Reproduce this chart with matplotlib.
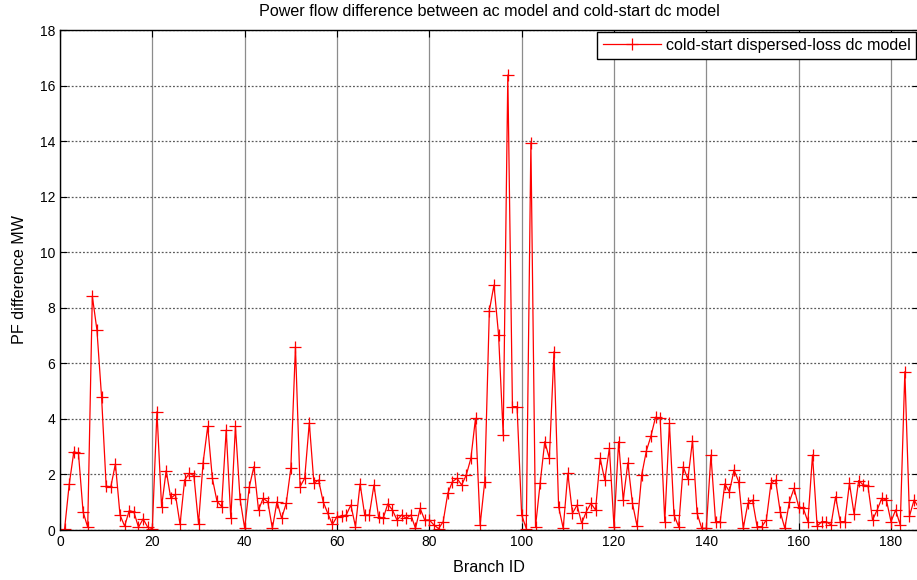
import numpy as np
import matplotlib
matplotlib.use("Agg")
import matplotlib.pyplot as plt

# power flow difference (MW) per branch, branches 1..186
branch_ids = np.arange(1, 187)
pf_diff = [
    0.05, 1.65, 2.82, 2.76, 0.65, 0.10, 8.42, 7.20, 4.80, 1.58,
    1.55, 2.38, 0.54, 0.14, 0.70, 0.65, 0.10, 0.40, 0.10, 0.05,
    4.26, 0.84, 2.14, 1.14, 1.28, 0.20, 1.80, 2.04, 1.96, 0.23,
    2.43, 3.73, 1.86, 1.04, 0.84, 3.60, 0.42, 3.73, 1.12, 0.06,
    1.55, 2.28, 0.72, 1.14, 1.02, 0.06, 1.02, 0.42, 0.96, 2.22,
    6.60, 1.56, 1.86, 3.86, 1.68, 1.80, 1.02, 0.60, 0.20, 0.48,
    0.50, 0.54, 0.90, 0.12, 1.66, 0.54, 0.54, 1.62, 0.48, 0.42,
    0.94, 0.72, 0.36, 0.54, 0.42, 0.54, 0.06, 0.78, 0.36, 0.36,
    0.18, 0.05, 0.30, 1.32, 1.74, 1.86, 1.62, 1.98, 2.58, 4.02,
    0.18, 1.74, 7.90, 8.82, 7.02, 3.42, 16.38, 4.44, 4.44, 0.54,
    0.05, 13.95, 0.12, 1.68, 3.18, 2.58, 6.42, 0.84, 0.06, 2.04,
    0.60, 0.90, 0.24, 0.66, 0.96, 0.72, 2.58, 1.80, 2.94, 0.12,
    3.18, 1.08, 2.42, 0.96, 0.14, 1.98, 2.84, 3.38, 4.06, 4.02,
    0.30, 3.84, 0.54, 0.12, 2.28, 1.82, 3.22, 0.60, 0.06, 0.06,
    2.70, 0.30, 0.30, 1.66, 1.38, 2.16, 1.74, 0.06, 0.96, 1.08,
    0.12, 0.12, 0.36, 1.68, 1.80, 0.66, 0.06, 1.02, 1.50, 0.84,
    0.78, 0.30, 2.70, 0.14, 0.30, 0.30, 0.18, 1.20, 0.30, 0.30,
    1.68, 0.58, 1.78, 1.62, 1.60, 0.36, 0.72, 1.14, 1.08, 0.30,
    0.72, 0.18, 5.70, 0.50, 1.08, 0.80,
]
x_ticks = np.arange(0, 181, 20)
y_ticks = np.arange(0, 19, 2)

plt.rcParams["font.family"] = ["Liberation Sans", "DejaVu Sans"]
plt.rcParams["font.size"] = 10

fig = plt.figure(figsize=(9.17, 5.8), dpi=100)
ax = fig.add_axes([60 / 917, 50 / 580, 858.7 / 917, 500 / 580])

# 1. Plot
ax.plot(branch_ids, pf_diff, color="red", linewidth=0.9, marker="+",
        markersize=8, markeredgewidth=0.9,
        label="cold-start dispersed-loss dc model")

# 2. Axes, ticks, grid
ax.set_xlim(0, 186)
ax.set_ylim(0, 18)
ax.set_xticks(x_ticks)
ax.set_yticks(y_ticks)
ax.tick_params(direction="in", length=5, top=True, right=True,
               labelsize=10, width=0.8)
ax.xaxis.grid(True, color="#8c8c8c", linestyle="-", linewidth=0.9)
ax.yaxis.grid(True, color="#5a5a5a", linestyle=(0, (1.5, 1.5)), linewidth=0.9)
ax.set_axisbelow(True)
for spine in ax.spines.values():
    spine.set_linewidth(1.0)

# 3. Labels
ax.set_title("Power flow difference between ac model and cold-start dc model",
             fontsize=11.6, pad=10)
ax.set_xlabel("Branch ID", fontsize=11.6, labelpad=8)
ax.set_ylabel("PF difference MW", fontsize=11.6, labelpad=9)

# 4. Legend
legend = ax.legend(loc="upper right", fontsize=11.6, handlelength=3.6,
                   handletextpad=0.3, fancybox=False, framealpha=1,
                   edgecolor="black", borderaxespad=0.15, borderpad=0.35)
legend.get_frame().set_linewidth(1.0)

fig.savefig("out.png", dpi=100)
